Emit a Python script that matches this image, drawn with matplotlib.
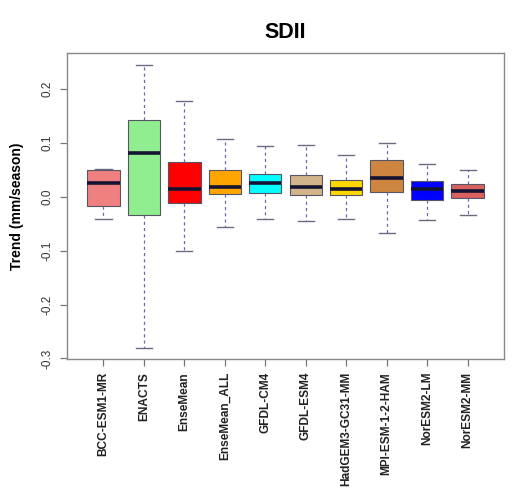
import matplotlib
matplotlib.use("Agg")
import matplotlib.pyplot as plt

plt.rcParams['font.family'] = ['Liberation Sans', 'DejaVu Sans']

models = ["BCC-ESM1-MR", "ENACTS", "EnseMean", "EnseMean_ALL", "GFDL-CM4",
          "GFDL-ESM4", "HadGEM3-GC31-MM", "MPI-ESM-1-2-HAM", "NorESM2-LM", "NorESM2-MM"]
whisker_low = [-0.042, -0.280, -0.101, -0.056, -0.042, -0.045, -0.042, -0.068, -0.043, -0.034]
quartile1 = [-0.017, -0.034, -0.011, 0.005, 0.0065, 0.003, 0.003, 0.009, -0.0065, -0.002]
median = [0.025, 0.0805, 0.015, 0.018, 0.025, 0.0176, 0.0145, 0.034, 0.015, 0.011]
quartile3 = [0.049, 0.1435, 0.064, 0.050, 0.043, 0.040, 0.032, 0.068, 0.029, 0.024]
whisker_high = [0.052, 0.245, 0.177, 0.108, 0.094, 0.096, 0.077, 0.099, 0.060, 0.049]
box_colors = ["#F08080", "#90EE90", "#FF0000", "#FFA500", "#00FFFF",
              "#D2B48C", "#FFD700", "#CD853F", "#0000FF", "#D9605E"]

stats = []
for name, lo, q1, med, q3, hi in zip(models, whisker_low, quartile1, median, quartile3, whisker_high):
    stats.append(dict(label=name, whislo=lo, q1=q1, med=med, q3=q3, whishi=hi, fliers=[]))

fig = plt.figure(figsize=(5.23, 4.97), dpi=100)
ax = fig.add_axes([0.1281, 0.2767, 0.8356, 0.6167])

positions = list(range(1, len(models) + 1))
bp = ax.bxp(stats, positions=positions, widths=0.8, patch_artist=True, showfliers=False,
            boxprops=dict(edgecolor="#555566", linewidth=0.8),
            whiskerprops=dict(color="#6a6aaa", linestyle=(0, (2.5, 2.5)), linewidth=0.9),
            capprops=dict(color="#6a6a80", linewidth=1.0),
            medianprops=dict(color="#141432", linewidth=2.6),
            capwidths=0.4)
for patch, c in zip(bp['boxes'], box_colors):
    patch.set_facecolor(c)

ax.set_xlim(0.1, 10.9)
ax.set_ylim(-0.302, 0.267)
ax.set_yticks([-0.3, -0.2, -0.1, 0.0, 0.1, 0.2])
ax.set_yticklabels(["-0.3", "-0.2", "-0.1", "0.0", "0.1", "0.2"], rotation=90,
                   va="center", fontsize=8.5, color="#333333")
ax.set_xticks(positions)
ax.set_xticklabels(models, rotation=90, fontsize=8.6, fontweight="bold", color="#222222")

for sp in ax.spines.values():
    sp.set_color("#888888")
    sp.set_linewidth(1.0)
ax.tick_params(axis="both", direction="out", length=5, color="#777777", width=0.9)
ax.tick_params(axis="y", pad=5)
ax.tick_params(axis="x", pad=4)

ax.set_ylabel("Trend (mm/season)", fontsize=10, fontweight="bold", labelpad=12)
ax.set_title("SDII", fontsize=15.5, fontweight="bold", pad=11)

fig.savefig("out.png", dpi=100)
